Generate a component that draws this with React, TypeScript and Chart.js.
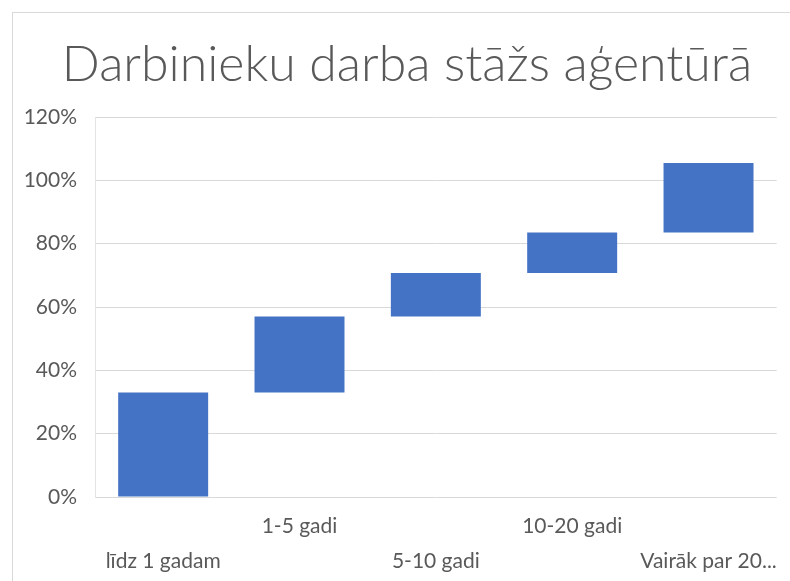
import React, { useEffect, useRef } from "react";
import { Chart, registerables } from "chart.js";

Chart.register(...registerables);

const TITLE = "Darbinieku darba stāžs aģentūrā";
const categories = ["līdz 1 gadam", "1-5 gadi", "5-10 gadi", "10-20 gadi", "Vairāk par 20..."];
const barStarts = [0, 33, 57, 70.7, 83.5];
const barEnds = [33, 57, 70.7, 83.5, 105.5];
const yTicks = [0, 20, 40, 60, 80, 100, 120];

const titlePlugin = {
  id: "customTitle",
  afterDraw(chart: any) {
    const ctx = chart.ctx;
    ctx.save();
    ctx.fillStyle = "#595959";
    ctx.font = "300 50px Lato";
    ctx.textAlign = "center";
    ctx.textBaseline = "middle";
    ctx.fillText(TITLE, chart.width / 2 + 12, 65);
    ctx.restore();
  },
};

export default function App() {
  const ref = useRef<HTMLCanvasElement | null>(null);

  useEffect(() => {
    document.body.style.margin = "0";
    const canvas = ref.current!;
    const labels = categories.map((c, i) => (i % 2 === 0 ? ["", c] : [c, ""]));
    const chart = new Chart(canvas, {
      type: "bar",
      data: {
        labels,
        datasets: [
          {
            data: barStarts.map((s, i) => [s, barEnds[i]]) as any,
            backgroundColor: "#4472C4",
            borderWidth: 0,
            barPercentage: 0.66,
            categoryPercentage: 1,
          },
        ],
      },
      plugins: [titlePlugin],
      options: {
        animation: false,
        responsive: false,
        maintainAspectRatio: false,
        layout: { padding: { left: 12, right: 12, top: 117, bottom: 0 } },
        plugins: {
          legend: { display: false },
          tooltip: { enabled: false },
          title: { display: false },
        },
        scales: {
          x: {
            grid: { display: false, drawTicks: false },
            border: { display: false },
            ticks: {
              color: "#595959",
              font: { family: "Lato", size: 21, lineHeight: 35 / 21 },
              padding: 12,
              maxRotation: 0,
              autoSkip: false,
            },
            afterFit: (scale: any) => {
              scale.height = 84;
            },
          },
          y: {
            min: 0,
            max: 120,
            afterBuildTicks: (scale: any) => {
              scale.ticks = yTicks.map((v) => ({ value: v }));
            },
            afterFit: (scale: any) => {
              scale.width = 83;
            },
            grid: { color: "#d9d9d9", lineWidth: 1, drawTicks: false },
            border: { display: true, color: "#e4e4e4" },
            ticks: {
              color: "#595959",
              font: { family: "Lato", size: 21 },
              padding: 18,
              callback: (v: any) => v + "%",
            },
          },
        },
      },
    });
    return () => chart.destroy();
  }, []);

  return (
    <div style={{ position: "absolute", left: 0, top: 0, width: 790, height: 581, background: "#fff" }}>
      <div
        style={{
          position: "absolute",
          left: 12,
          top: 12,
          width: 800,
          height: 600,
          border: "1px solid #d9d9d9",
        }}
      />
      <canvas ref={ref} width={790} height={581} style={{ position: "absolute", left: 0, top: 0 }} />
    </div>
  );
}
